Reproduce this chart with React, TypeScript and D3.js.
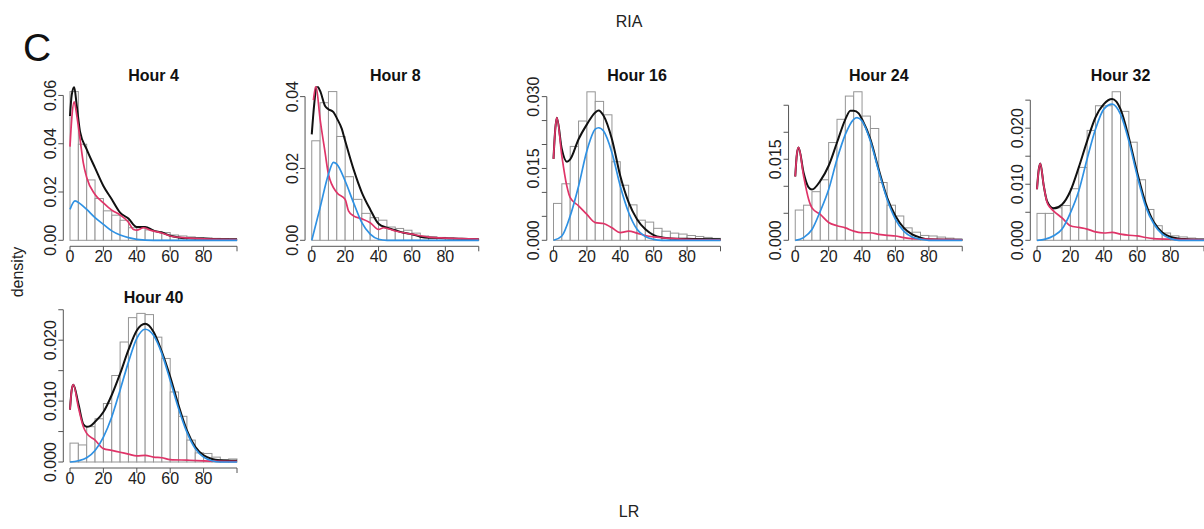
import React from 'react';
import * as d3 from 'd3';

// histogram bins (width 5) and fitted density curves
const binStarts = [0, 5, 10, 15, 20, 25, 30, 35, 40, 45, 50, 55, 60, 65, 70, 75, 80, 85, 90, 95];
const xTicks = [0, 20, 40, 60, 80, 100];
const xTickLabels = ['0', '20', '40', '60', '80', ''];

const hours = ['Hour 4', 'Hour 8', 'Hour 16', 'Hour 24', 'Hour 32', 'Hour 40'];

const h4Bins = [0.0616, 0.0398, 0.025, 0.0173, 0.0122, 0.0104, 0.0083, 0.0052, 0.0052, 0.0043, 0.0036, 0.0032, 0.0022, 0.0018, 0.0014, 0.0011, 0.001, 0.0008, 0.0006, 0.0004];
const h8Bins = [0.0277, 0.0383, 0.0414, 0.0289, 0.0177, 0.0114, 0.0075, 0.0063, 0.0056, 0.0037, 0.0033, 0.0028, 0.002, 0.0012, 0.001, 0.0008, 0.0006, 0.0005, 0.0004, 0.0003];
const h16Bins = [0.0077, 0.0118, 0.0196, 0.0249, 0.031, 0.029, 0.0262, 0.0164, 0.0115, 0.0074, 0.0042, 0.0038, 0.0025, 0.0019, 0.0015, 0.0013, 0.001, 0.0008, 0.0006, 0.0004];
const h24Bins = [0.0056, 0.0065, 0.009, 0.0112, 0.0181, 0.0224, 0.0267, 0.0275, 0.023, 0.0207, 0.0107, 0.0065, 0.0045, 0.0023, 0.0015, 0.0009, 0.0008, 0.0006, 0.0004, 0.0002];
const h32Bins = [0.0048, 0.0048, 0.0058, 0.0062, 0.0092, 0.013, 0.0196, 0.024, 0.024, 0.0265, 0.023, 0.0175, 0.0108, 0.0055, 0.0026, 0.0013, 0.0008, 0.0006, 0.0004, 0.0003];
const h40Bins = [0.0031, 0.0028, 0.0058, 0.0071, 0.0096, 0.0142, 0.0197, 0.0237, 0.0244, 0.0242, 0.0205, 0.017, 0.0115, 0.0075, 0.0036, 0.0015, 0.0014, 0.0008, 0.0004, 0.0005];

const h4Black = [[0, 0.0515], [1, 0.06], [2.5, 0.0635], [4, 0.056], [6, 0.045], [10, 0.0377], [15, 0.03], [20, 0.0225], [25, 0.017], [30, 0.0115], [35, 0.009], [40, 0.0055], [45, 0.0055], [50, 0.004], [55, 0.0032], [60, 0.0019], [65, 0.0012], [70, 0.0008], [80, 0.0007], [90, 0.0004], [100, 0.0004]];
const h4Red = [[0, 0.0388], [1, 0.05], [2.5, 0.0573], [4, 0.052], [6, 0.042], [8, 0.032], [10, 0.026], [15, 0.019], [20, 0.0155], [25, 0.0125], [30, 0.0105], [35, 0.0075], [38, 0.0045], [40, 0.0042], [44, 0.0052], [48, 0.0042], [55, 0.003], [60, 0.0018], [70, 0.001], [80, 0.0006], [100, 0.0003]];
const h4Blue = [[0, 0.0128], [3, 0.0163], [6, 0.0152], [10, 0.0128], [15, 0.0094], [20, 0.0066], [25, 0.0039], [30, 0.0022], [35, 0.0011], [40, 0.0004], [50, 0], [100, 0]];

const h8Black = [[0, 0.0295], [1.5, 0.038], [3, 0.043], [5, 0.0416], [8, 0.0374], [10, 0.0365], [13, 0.0357], [15, 0.034], [18, 0.031], [20, 0.0277], [25, 0.0198], [30, 0.0133], [35, 0.0086], [40, 0.0046], [45, 0.0035], [50, 0.0028], [55, 0.0021], [60, 0.0017], [65, 0.001], [70, 0.0007], [80, 0.0006], [90, 0.0004], [100, 0.0003]];
const h8Red = [[1, 0.039], [2.5, 0.043], [5, 0.0337], [8, 0.0244], [10, 0.0184], [15, 0.0133], [20, 0.0114], [22, 0.0082], [25, 0.0068], [30, 0.006], [35, 0.0049], [40, 0.003], [43, 0.0035], [50, 0.0026], [60, 0.0017], [70, 0.0009], [80, 0.0006], [100, 0.0003]];
const h8Blue = [[0, 0], [5, 0.0091], [10, 0.0184], [13, 0.0217], [15, 0.0212], [20, 0.0165], [25, 0.0105], [30, 0.0049], [35, 0.0017], [40, 0.0003], [45, 0], [100, 0]];

const h16Black = [[0, 0.017], [1, 0.023], [2, 0.0256], [5, 0.019], [8, 0.0164], [10, 0.0169], [15, 0.0211], [20, 0.0242], [25, 0.0267], [27, 0.0271], [30, 0.026], [35, 0.0211], [40, 0.0134], [45, 0.0079], [50, 0.0044], [55, 0.0023], [60, 0.0011], [65, 0.0006], [70, 0.0004], [80, 0.0003], [100, 0.0002]];
const h16Red = [[0, 0.017], [1, 0.023], [2, 0.0256], [5, 0.0176], [8, 0.0113], [10, 0.0089], [15, 0.0072], [20, 0.0054], [25, 0.0037], [30, 0.0035], [35, 0.0026], [40, 0.0016], [45, 0.0019], [50, 0.0015], [55, 0.001], [60, 0.0007], [70, 0.0004], [80, 0.0002], [100, 0.0001]];
const h16Blue = [[0, 0], [5, 0.0009], [10, 0.0051], [15, 0.0113], [20, 0.0187], [25, 0.0232], [27, 0.0235], [30, 0.0228], [35, 0.0183], [40, 0.0113], [45, 0.0058], [50, 0.0023], [55, 0.0008], [60, 0.0002], [65, 0], [100, 0]];

const h24Black = [[0, 0.0118], [1, 0.016], [2, 0.0172], [5, 0.0125], [8, 0.0098], [10, 0.0094], [15, 0.011], [20, 0.0138], [25, 0.0181], [30, 0.0224], [33, 0.024], [35, 0.024], [38, 0.0235], [40, 0.0224], [45, 0.0187], [50, 0.0131], [55, 0.0079], [60, 0.0045], [65, 0.0023], [70, 0.0011], [75, 0.0005], [80, 0.0002], [100, 0.0001]];
const h24Red = [[0, 0.0118], [1, 0.016], [2, 0.0172], [5, 0.0119], [8, 0.0076], [10, 0.006], [15, 0.0048], [20, 0.0033], [25, 0.0027], [30, 0.0023], [35, 0.0017], [40, 0.0014], [45, 0.0014], [50, 0.0011], [55, 0.0009], [60, 0.0008], [65, 0.0005], [70, 0.0003], [80, 0.0002], [100, 0.0001]];
const h24Blue = [[0, 0], [5, 0.0005], [10, 0.002], [15, 0.0054], [20, 0.0094], [25, 0.015], [30, 0.0196], [35, 0.0224], [37, 0.0227], [40, 0.0221], [45, 0.0184], [50, 0.0128], [55, 0.0076], [60, 0.0039], [65, 0.0017], [70, 0.0006], [75, 0.0002], [80, 0], [100, 0]];

const h32Black = [[0, 0.0091], [1, 0.0125], [2, 0.0137], [4, 0.0098], [6, 0.007], [10, 0.0057], [15, 0.0064], [20, 0.0088], [25, 0.013], [30, 0.0177], [35, 0.0219], [40, 0.0243], [45, 0.0252], [50, 0.0234], [55, 0.0183], [60, 0.0121], [65, 0.0067], [70, 0.0032], [75, 0.0014], [80, 0.0006], [85, 0.0003], [90, 0.0002], [100, 0.0001]];
const h32Red = [[0, 0.0091], [1, 0.0125], [2, 0.0137], [4, 0.0098], [6, 0.0068], [8, 0.0058], [10, 0.0052], [15, 0.004], [20, 0.0026], [25, 0.0023], [30, 0.002], [35, 0.0015], [40, 0.0013], [45, 0.0014], [50, 0.0011], [55, 0.0009], [60, 0.0008], [65, 0.0005], [70, 0.0003], [80, 0.0002], [100, 0.0001]];
const h32Blue = [[0, 0], [5, 0.0002], [10, 0.0008], [15, 0.002], [20, 0.0049], [25, 0.0088], [30, 0.0145], [35, 0.0198], [40, 0.0234], [45, 0.0243], [50, 0.0225], [55, 0.0177], [60, 0.0115], [65, 0.0061], [70, 0.0029], [75, 0.0011], [80, 0.0003], [85, 0], [100, 0]];

const h40Black = [[0, 0.0086], [1, 0.0118], [2, 0.0127], [5, 0.0096], [8, 0.0062], [10, 0.0058], [12, 0.0059], [15, 0.0066], [20, 0.0082], [25, 0.011], [30, 0.0145], [35, 0.0184], [40, 0.0216], [45, 0.0227], [50, 0.0214], [55, 0.0181], [60, 0.014], [65, 0.0093], [70, 0.0052], [75, 0.0025], [80, 0.0011], [85, 0.0005], [90, 0.0003], [100, 0.0002]];
const h40Red = [[0, 0.0086], [1, 0.0118], [2, 0.0127], [5, 0.009], [8, 0.0058], [10, 0.0047], [15, 0.0036], [20, 0.0022], [25, 0.0019], [30, 0.0016], [35, 0.0013], [40, 0.001], [45, 0.0011], [50, 0.0008], [55, 0.0007], [60, 0.0004], [70, 0.0003], [80, 0.0002], [100, 0.0001]];
const h40Blue = [[0, 0], [5, 0.0002], [10, 0.0007], [15, 0.0019], [20, 0.0041], [25, 0.0074], [30, 0.0118], [35, 0.0164], [40, 0.0203], [45, 0.0218], [50, 0.0208], [55, 0.0178], [60, 0.0134], [65, 0.0088], [70, 0.0049], [75, 0.0022], [80, 0.0008], [85, 0.0002], [90, 0], [100, 0]];

const allBins = [h4Bins, h8Bins, h16Bins, h24Bins, h32Bins, h40Bins];
const allBlack = [h4Black, h8Black, h16Black, h24Black, h32Black, h40Black];
const allRed = [h4Red, h8Red, h16Red, h24Red, h32Red, h40Red];
const allBlue = [h4Blue, h8Blue, h16Blue, h24Blue, h32Blue, h40Blue];

const yMaxes = [0.0613, 0.0412, 0.0309, 0.0274, 0.0264, 0.0243];
const yTicks = [
  [0, 0.02, 0.04, 0.06],
  [0, 0.02, 0.04],
  [0, 0.005, 0.01, 0.015, 0.02, 0.025, 0.03],
  [0, 0.005, 0.01, 0.015, 0.02, 0.025],
  [0, 0.005, 0.01, 0.015, 0.02, 0.025],
  [0, 0.005, 0.01, 0.015, 0.02, 0.025],
];
const yLabelled = [
  [0, 0.02, 0.04, 0.06],
  [0, 0.02, 0.04],
  [0, 0.015, 0.03],
  [0, 0.015],
  [0, 0.01, 0.02],
  [0, 0.01, 0.02],
];
const yFormats = ['.2f', '.2f', '.3f', '.3f', '.3f', '.3f'];

const RED = '#DF3468';
const BLUE = '#2F91E3';
const FONT = 'Liberation Sans, Arial, sans-serif';

function Panel({ i }: { i: number }) {
  const col = i % 5;
  const row = Math.floor(i / 5);
  const x0 = 70 + col * 241.75;
  const yZero = 240.3 + row * 221.7;
  const w = 167;
  const h = 148;
  const pad = 6.7;
  const padY = 6;

  const x = d3.scaleLinear().domain([0, 100]).range([x0, x0 + w]);
  const y = d3.scaleLinear().domain([0, yMaxes[i]]).range([yZero, yZero - h]);
  const fmt = d3.format(yFormats[i]);

  const line = d3.line<number[]>()
    .x(d => x(d[0]))
    .y(d => y(d[1]))
    .curve(d3.curveMonotoneX);

  const clipId = `clip${i}`;
  const left = x0 - pad;
  const bottom = yZero + padY;
  const top = yZero - h - padY;
  const yTop = yTicks[i][yTicks[i].length - 1];

  return (
    <g>
      <defs>
        <clipPath id={clipId}>
          <rect x={left} y={top} width={w + 2 * pad} height={bottom - top} />
        </clipPath>
      </defs>
      <text x={x0 + w / 2} y={yZero - 159.5} textAnchor="middle" fontFamily={FONT}
        fontWeight="bold" fontSize={16} fill="#111">{hours[i]}</text>
      <g clipPath={`url(#${clipId})`}>
        {allBins[i].map((v, k) => (
          <rect key={k} x={x(binStarts[k])} y={y(v)} width={x(binStarts[k] + 5) - x(binStarts[k])}
            height={y(0) - y(v)} fill="white" stroke="#959595" strokeWidth={1} />
        ))}
        <path d={line(allBlack[i] as number[][]) || ''} fill="none" stroke="#111" strokeWidth={2} />
        <path d={line(allRed[i] as number[][]) || ''} fill="none" stroke={RED} strokeWidth={1.7} />
        <path d={line(allBlue[i] as number[][]) || ''} fill="none" stroke={BLUE} strokeWidth={1.7} />
      </g>
      {/* x axis */}
      <line x1={x(0)} x2={x(100)} y1={bottom} y2={bottom} stroke="#555" strokeWidth={1} />
      {xTicks.map((t, k) => (
        <g key={k}>
          <line x1={x(t)} x2={x(t)} y1={bottom} y2={bottom + 5} stroke="#555" strokeWidth={1} />
          <text x={x(t)} y={bottom + 15.5} textAnchor="middle" fontFamily={FONT} fontSize={16}
            fill="#222">{xTickLabels[k]}</text>
        </g>
      ))}
      {/* y axis */}
      <line x1={left} x2={left} y1={y(0)} y2={y(yTop)} stroke="#555" strokeWidth={1} />
      {yTicks[i].map((t, k) => (
        <line key={k} x1={left - 5} x2={left} y1={y(t)} y2={y(t)} stroke="#555" strokeWidth={1} />
      ))}
      {yLabelled[i].map((t, k) => (
        <text key={k} transform={`translate(${left - 7.5},${y(t)}) rotate(-90)`} textAnchor="middle"
          fontFamily={FONT} fontSize={16} fill="#222">{fmt(t)}</text>
      ))}
    </g>
  );
}

export default function App() {
  return (
    <svg width={1204} height={529} style={{ position: 'absolute', left: 0, top: 0, background: 'white' }}>
      <rect width={1204} height={529} fill="white" />
      <text x={23} y={61} fontFamily={FONT} fontSize={39} fill="#111">C</text>
      <text x={629} y={27} textAnchor="middle" fontFamily={FONT} fontSize={16} fill="#222">RIA</text>
      <text x={629} y={517} textAnchor="middle" fontFamily={FONT} fontSize={16} fill="#222">LR</text>
      <text transform="translate(23,272) rotate(-90)" textAnchor="middle" fontFamily={FONT}
        fontSize={16} fill="#222">density</text>
      {hours.map((_, i) => <Panel key={i} i={i} />)}
    </svg>
  );
}
